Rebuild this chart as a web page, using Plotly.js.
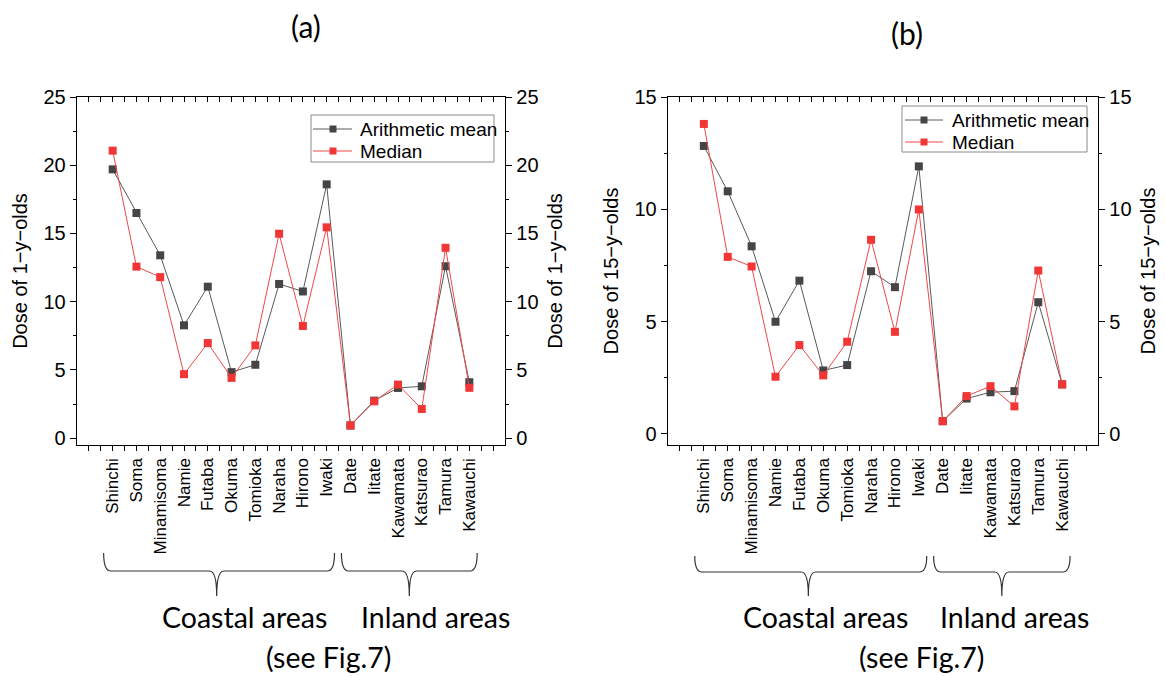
<!DOCTYPE html>
<html>
<head>
<meta charset="utf-8">
<script src="https://cdn.plot.ly/plotly-3.0.1.min.js"></script>
<style>html,body{margin:0;padding:0;background:#fff;}</style>
</head>
<body>
<div id="chart" style="width:1165px;height:676px;"></div>
<script>
// ---------- data ----------
const categories = ['Shinchi','Soma','Minamisoma','Namie','Futaba','Okuma','Tomioka','Naraha','Hirono','Iwaki','Date','Iitate','Kawamata','Katsurao','Tamura','Kawauchi'];
const meanA   = [19.7, 16.5, 13.4, 8.27, 11.1, 4.84, 5.38, 11.3, 10.75, 18.6, 0.93, 2.75, 3.68, 3.8, 12.6, 4.1];
const medianA = [21.07, 12.57, 11.8, 4.69, 6.97, 4.42, 6.8, 14.98, 8.22, 15.45, 0.93, 2.7, 3.93, 2.14, 13.95, 3.69];
const meanB   = [12.82, 10.8, 8.35, 4.99, 6.82, 2.82, 3.06, 7.24, 6.53, 11.91, 0.56, 1.57, 1.85, 1.9, 5.86, 2.2];
const medianB = [13.8, 7.88, 7.45, 2.54, 3.95, 2.6, 4.1, 8.64, 4.54, 9.99, 0.56, 1.68, 2.12, 1.22, 7.27, 2.2];
const seriesNames = ['Arithmetic mean', 'Median'];
const panelTitles = ['(a)', '(b)'];
const yTitles = ['Dose of 1\u2212y\u2212olds', 'Dose of 15\u2212y\u2212olds'];
const groupNames = ['Coastal areas', 'Inland areas'];
const groupFirst = ['Shinchi', 'Date'];
const groupLast  = ['Iwaki', 'Kawauchi'];
const footNote = '(see Fig.7)';

// ---------- geometry helpers ----------
const W = 1165, H = 676;
const M = {l: 77, r: 67, t: 97, b: 231};
const plotW = W - M.l - M.r, plotH = H - M.t - M.b;
const px2x = p => (p - M.l) / plotW;
const px2y = p => (H - M.b - p) / plotH;

const xIdx = categories.map((c, i) => i);
const tickvals = [], ticktext = [];
for (let v = -1; v <= categories.length + 0.001; v += 0.5) {
  tickvals.push(v);
  ticktext.push(Number.isInteger(v) && v >= 0 && v < categories.length ? categories[v] : '');
}

const markerColors = ['#454545', '#f23535'];
const lineColors = ['#5a5a5a', '#f04848'];

function traces(series, xa, ya) {
  return series.map((vals, si) => ({
    x: xIdx, y: vals, name: seriesNames[si], type: 'scatter', mode: 'lines+markers',
    xaxis: xa, yaxis: ya, showlegend: false,
    line: {color: lineColors[si], width: 1},
    marker: {symbol: 'square', size: 8, color: markerColors[si]}
  }));
}
// empty helper traces so the mirrored (top / right) axes get drawn
function frameTrace(xa, ya) {
  return {x: [null], y: [null], type: 'scatter', mode: 'markers', xaxis: xa, yaxis: ya,
          showlegend: false, hoverinfo: 'skip', marker: {opacity: 0}};
}

const data = [
  ...traces([meanA, medianA], 'x', 'y'),
  ...traces([meanB, medianB], 'x3', 'y3'),
  frameTrace('x2', 'y'), frameTrace('x', 'y2'),
  frameTrace('x4', 'y3'), frameTrace('x3', 'y4')
];

const FONT = 'Liberation Sans, Arial, sans-serif';
const axisFont = {family: FONT, size: 20, color: '#000'};
const baseLine = {showline: true, linecolor: '#000', linewidth: 1.3, showgrid: false, zeroline: false};

function xBottom(domain, anchor) {
  return Object.assign({}, baseLine, {
    domain: domain, anchor: anchor, range: [-1.5, categories.length + 0.5],
    tickmode: 'array', tickvals: tickvals, ticktext: ticktext, tickangle: -90,
    ticks: 'outside', ticklen: 5, tickwidth: 1, tickcolor: '#000',
    tickfont: {family: FONT, size: 17, color: '#000'}
  });
}
function xTop(over, anchor) {
  return Object.assign({}, baseLine, {
    overlaying: over, anchor: anchor, side: 'top', range: [-1.5, categories.length + 0.5],
    tickmode: 'array', tickvals: tickvals, showticklabels: false,
    ticks: 'inside', ticklen: 5, tickwidth: 1, tickcolor: '#000'
  });
}
function yAx(range, anchor, side, over, title) {
  const o = Object.assign({}, baseLine, {
    anchor: anchor, side: side, range: range, tickmode: 'linear', tick0: 0, dtick: 5,
    ticks: 'outside', ticklen: 6, tickwidth: 1, tickcolor: '#000',
    minor: {tick0: 0, dtick: 2.5, ticks: 'outside', ticklen: 3, tickwidth: 1, tickcolor: '#000'},
    tickfont: axisFont,
    title: {text: title, font: {family: FONT, size: 20, color: '#000'}, standoff: 10}
  });
  if (over) o.overlaying = over; else o.domain = [0, 1];
  return o;
}

// braces
function bracePath(x0, x1, xm, yTop, yMid, yTip) {
  const d = 0.3;
  return `M${x0},${yTop} Q${x0},${yMid} ${x0 + d},${yMid} L${xm - d},${yMid} Q${xm},${yMid} ${xm},${yTip} ` +
         `Q${xm},${yMid} ${xm + d},${yMid} L${x1 - d},${yMid} Q${x1},${yMid} ${x1},${yTop}`;
}
const shapes = [];
const annotations = [];
const panels = [
  {xref: 'x', dom: [0, px2x(505)], titleX: 306, titleY: 26, coastX: 244, inlandX: 435, noteX: 328,
   bTop: 553, bMid: 571, bTip: 596,
   leg: {l: 311, r: 494, t: 115, b: 162, rows: [129, 151], l0: 313, l1: 352, mk: 333, tx: 358}},
  {xref: 'x3', dom: [px2x(668), 1], titleX: 907, titleY: 33, coastX: 825, inlandX: 1014, noteX: 921,
   bTop: 556, bMid: 572, bTip: 596,
   leg: {l: 902, r: 1087, t: 106, b: 152, rows: [120, 142], l0: 905, l1: 943, mk: 924, tx: 950}}
];
const bigFont = {family: 'Lato, Open Sans, sans-serif', size: 28.5, color: '#000'};
panels.forEach((p, pi) => {
  groupNames.forEach((g, gi) => {
    const i0 = categories.indexOf(groupFirst[gi]);
    const i1 = categories.indexOf(groupLast[gi]);
    const x0 = i0 - 0.38, x1 = i1 + 0.33;
    const xm = gi === 0 ? (x0 + x1) / 2 - 0.1 : (x0 + x1) / 2;
    shapes.push({type: 'path', xref: p.xref, yref: 'paper',
      path: bracePath(x0, x1, xm, px2y(p.bTop), px2y(p.bMid), px2y(p.bTip)),
      line: {color: '#333', width: 1.2}});
    annotations.push({text: g, xref: 'paper', yref: 'paper', x: px2x(gi === 0 ? p.coastX : p.inlandX), y: px2y(617),
      xanchor: 'center', yanchor: 'middle', showarrow: false, font: bigFont});
  });
  annotations.push({text: footNote, xref: 'paper', yref: 'paper', x: px2x(p.noteX), y: px2y(657),
    xanchor: 'center', yanchor: 'middle', showarrow: false, font: bigFont});
  annotations.push({text: panelTitles[pi], xref: 'paper', yref: 'paper', x: px2x(p.titleX), y: px2y(p.titleY),
    xanchor: 'center', yanchor: 'middle', showarrow: false,
    font: {family: 'Lato, Open Sans, sans-serif', size: 30, color: '#000'}});

  // compact legend box (drawn above the data)
  const L = p.leg;
  shapes.push({type: 'rect', xref: 'paper', yref: 'paper', layer: 'above',
    x0: px2x(L.l), x1: px2x(L.r), y0: px2y(L.b), y1: px2y(L.t),
    fillcolor: '#fff', line: {color: '#8a8a8a', width: 1}});
  seriesNames.forEach((nm, si) => {
    const yy = L.rows[si];
    shapes.push({type: 'line', xref: 'paper', yref: 'paper', layer: 'above',
      x0: px2x(L.l0), x1: px2x(L.l1), y0: px2y(yy), y1: px2y(yy),
      line: {color: lineColors[si], width: 1}});
    shapes.push({type: 'rect', xref: 'paper', yref: 'paper', layer: 'above',
      x0: px2x(L.mk - 3.5), x1: px2x(L.mk + 3.5), y0: px2y(yy + 3.5), y1: px2y(yy - 3.5),
      fillcolor: markerColors[si], line: {width: 0}});
    annotations.push({text: nm, xref: 'paper', yref: 'paper', x: px2x(L.tx), y: px2y(yy),
      xanchor: 'left', yanchor: 'middle', showarrow: false,
      font: {family: FONT, size: 19, color: '#000'}});
  });
});

const layout = {
  width: W, height: H, margin: M, paper_bgcolor: '#fff', plot_bgcolor: '#fff',
  font: axisFont, showlegend: false,
  xaxis: xBottom(panels[0].dom, 'y'),
  xaxis2: xTop('x', 'y'),
  yaxis: yAx([-0.5, 25], 'x', 'left', null, yTitles[0]),
  yaxis2: yAx([-0.5, 25], 'x', 'right', 'y', yTitles[0]),
  xaxis3: xBottom(panels[1].dom, 'y3'),
  xaxis4: xTop('x3', 'y3'),
  yaxis3: yAx([-0.5, 15], 'x3', 'left', null, yTitles[1]),
  yaxis4: yAx([-0.5, 15], 'x3', 'right', 'y3', yTitles[1]),
  shapes: shapes,
  annotations: annotations
};

Plotly.newPlot('chart', data, layout, {displayModeBar: false, staticPlot: true});
</script>
</body>
</html>
